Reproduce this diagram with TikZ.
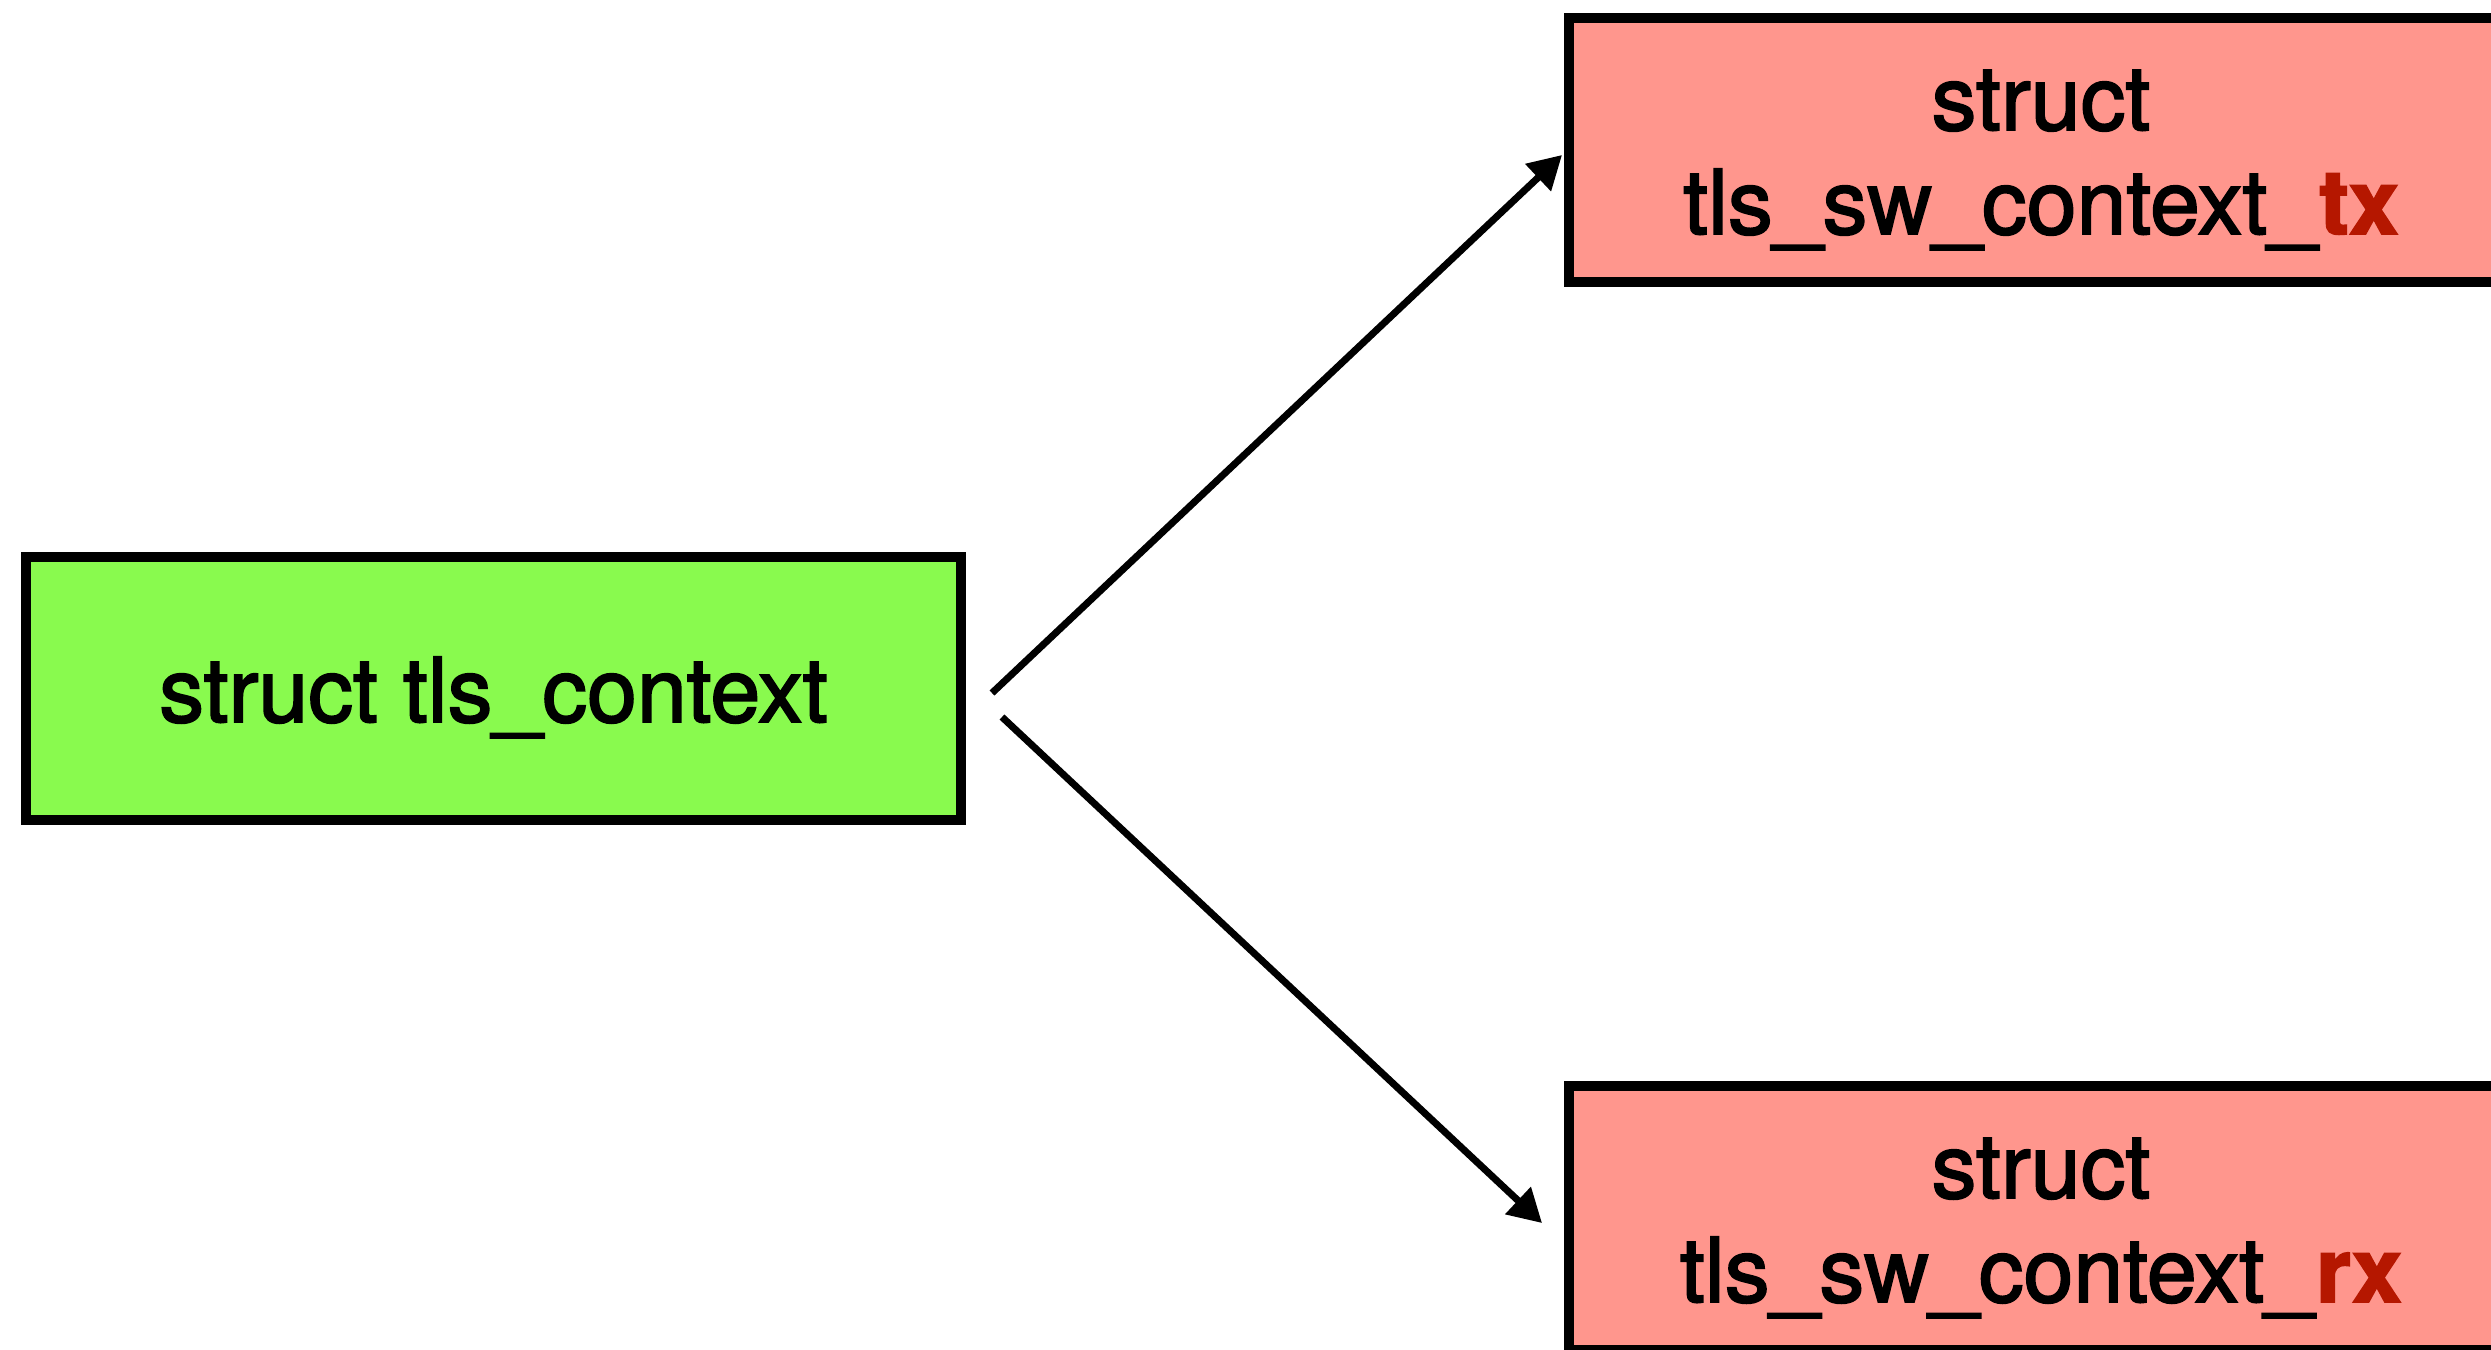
\documentclass[tikz,border=0pt]{standalone}
\usepackage{fontspec}
\setmainfont{TeX Gyre Heros}[FakeBold=2]
\usetikzlibrary{arrows.meta,calc}
\definecolor{ctxgreen}{RGB}{137,250,78}
\definecolor{swpink}{RGB}{255,150,141}
\definecolor{dirred}{RGB}{181,23,0}
\begin{document}
\begin{tikzpicture}[x=0.1mm,y=-0.1mm,
  structbox/.style={draw=black,line width=1mm,inner sep=0pt},
  structtext/.style={font=\fontsize{25.5}{30}\selectfont,inner sep=0pt,anchor=base},
  link/.style={line width=0.7mm,-{Triangle[length=3.3mm,width=3.6mm]}}]
\useasboundingbox (0,0) rectangle (2491,1349);
\clip (0,0) rectangle (2491,1349);

% generic TLS context
\node[structbox,fill=ctxgreen,minimum width=93.5mm,minimum height=26.3mm] (ctx) at (493.5,688) {};
\node[structtext] (ctxname) at ($(ctx.center)+(0,34)$) {struct tls\_context};

% software TX context
\node[structbox,fill=swpink,minimum width=94.4mm,minimum height=26.4mm] (tx) at (2041,150) {};
\node[structtext] (txhead) at ($(tx.center)+(0,-20)$) {struct};
\node[structtext] (txname) at ($(tx.center)+(0,84)$) {tls\_sw\_context\_\textbf{\color{dirred}tx}};

% software RX context
\node[structbox,fill=swpink,minimum width=94.4mm,minimum height=26.4mm] (rx) at (2041,1218) {};
\node[structtext] (rxhead) at ($(rx.center)+(0,-20)$) {struct};
\node[structtext] (rxname) at ($(rx.center)+(0,84)$) {tls\_sw\_context\_\textbf{\color{dirred}rx}};

% pointers from the generic context
\coordinate (txfrom) at ($(ctx.east)+(26,5)$);
\coordinate (rxfrom) at ($(ctx.east)+(36,29)$);
\coordinate (txto) at ($(tx.west)+(-2,5)$);
\coordinate (rxto) at ($(rx.west)+(-22,5)$);
\draw[link] (txfrom) -- (txto);
\draw[link] (rxfrom) -- (rxto);
\end{tikzpicture}
\end{document}
